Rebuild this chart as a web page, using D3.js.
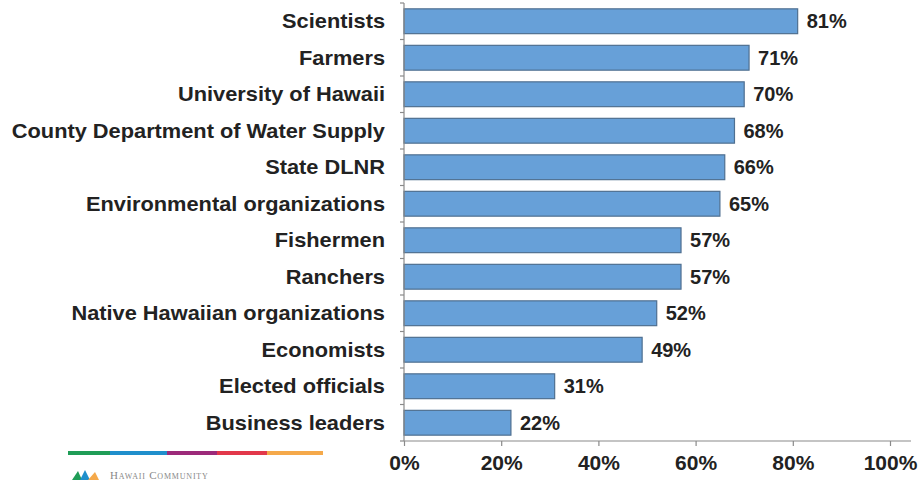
<!DOCTYPE html>
<html><head><meta charset="utf-8">
<script src="https://cdn.jsdelivr.net/npm/d3@7"></script>
<style>body{margin:0;background:#fff;overflow:hidden}svg{display:block}</style>
</head><body>
<svg id="c" width="921" height="480"></svg>
<script>
const categories = ["Scientists","Farmers","University of Hawaii","County Department of Water Supply","State DLNR","Environmental organizations","Fishermen","Ranchers","Native Hawaiian organizations","Economists","Elected officials","Business leaders"];
const values = [81,71,70,68,66,65,57,57,52,49,31,22];
const tickValues = [0,20,40,60,80,100];
const logoColors = ["#1f9d57","#1f8fcc","#9c2a7a","#e2384a","#f5a94a"];
const logoText = "Hawaii Community";

const svg = d3.select("#c");
const x0 = 404, x1 = 890, yTop = 3, yBot = 441;
const x = d3.scaleLinear().domain([0,100]).range([x0,x1]);
const y = d3.scaleBand().domain(categories).range([yTop,yBot]).paddingInner(0.32).paddingOuter(0.16);
const font = "'Liberation Sans', Arial, sans-serif";

// bars
svg.append("g").selectAll("rect").data(values).join("rect")
  .attr("x", x(0)).attr("y", (d,i)=>y(categories[i]))
  .attr("width", d=>x(d)-x(0)).attr("height", y.bandwidth())
  .attr("fill","#67a0d8").attr("stroke","#4f6f90").attr("stroke-width",1.2);

// value labels
svg.append("g").selectAll("text").data(values).join("text")
  .attr("x", d=>x(d)+9).attr("y",(d,i)=>y(categories[i])+y.bandwidth()/2)
  .attr("dy","0.36em").attr("font-family",font).attr("font-weight","bold")
  .attr("font-size",20).attr("fill","#222").text(d=>d+"%");

// category labels
svg.append("g").selectAll("text").data(categories).join("text")
  .attr("transform", d=>`translate(385,${y(d)+y.bandwidth()/2}) scale(1.09,1)`)
  .attr("dy","0.36em").attr("text-anchor","end").attr("font-family",font).attr("font-weight","bold")
  .attr("font-size",20).attr("fill","#222").text(d=>d);

// y axis line and ticks between categories
const ax = svg.append("g").attr("stroke","#8a8a8a").attr("stroke-width",1.2);
ax.append("line").attr("x1",x0).attr("x2",x0).attr("y1",yTop).attr("y2",yBot);
d3.range(categories.length+1).forEach(i=>{
  const yy = yTop + (yBot-yTop)*i/categories.length;
  ax.append("line").attr("x1",x0-4).attr("x2",x0).attr("y1",yy).attr("y2",yy);
});

// x axis
const xAxis = svg.append("g").attr("transform",`translate(0,${yBot})`)
  .call(d3.axisBottom(x).tickValues(tickValues).tickSize(5).tickFormat(d=>d+"%"));
xAxis.select(".domain").attr("d",`M${x0},0H911`).attr("stroke","#8a8a8a").attr("stroke-width",1.2);
xAxis.selectAll(".tick line").attr("stroke","#8a8a8a").attr("stroke-width",1.2);
xAxis.selectAll(".tick text").attr("font-family",font).attr("font-weight","bold")
  .attr("font-size",21).attr("fill","#222").attr("dy","1em");

// logo
const segs = [68,110,167,217,267,323];
const lg = svg.append("g");
logoColors.forEach((c,i)=>{
  lg.append("line").attr("x1",segs[i]).attr("x2",segs[i+1]).attr("y1",453).attr("y2",453)
    .attr("stroke",c).attr("stroke-width",4);
});
// icon
const ic = svg.append("g").attr("transform","translate(72,470)");
ic.append("path").attr("d","M0,10 L6,1 L10,10Z").attr("fill","#1f9d57");
ic.append("path").attr("d","M8,10 L13,0 L18,10Z").attr("fill","#1f8fcc");
ic.append("path").attr("d","M16,10 L23,2 L27,10Z").attr("fill","#f5a94a");
svg.append("text").attr("x",110).attr("y",479).attr("font-family","'Liberation Serif', serif")
  .attr("font-size",11).attr("fill","#888").attr("letter-spacing",0.8)
  .style("font-variant","small-caps").text(logoText);
</script>
</body></html>
